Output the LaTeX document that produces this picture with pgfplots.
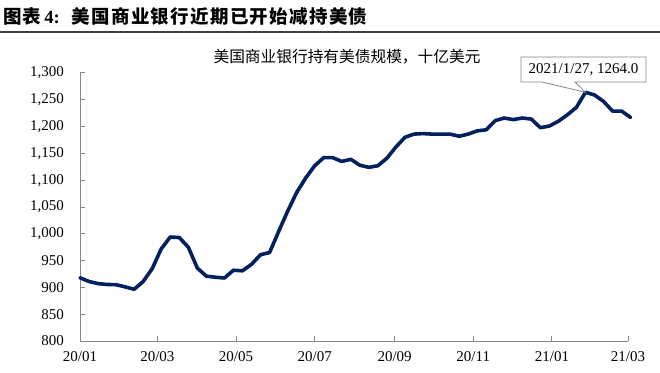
\documentclass[border=0pt]{standalone}
\usepackage{pgfplots}
\pgfplotsset{compat=1.18}
\usepackage{fontspec}
\setmainfont{Liberation Serif}
\newfontfamily\cjk{Noto Sans CJK SC}
\definecolor{navy}{RGB}{0,32,96}
\definecolor{axgray}{RGB}{134,134,134}
\begin{document}
\begin{tikzpicture}[x=1bp,y=1bp]
\useasboundingbox (0,0) rectangle (660,372);
\fill[white] (0,0) rectangle (660,372);
% title
\node[anchor=base west, inner sep=0pt] at (3,349) {\fontsize{18.5bp}{20bp}\selectfont{\cjk\bfseries\addfontfeature{LetterSpace=6}图表}\,{\bfseries 4:}\hspace{12bp}{\cjk\bfseries\addfontfeature{LetterSpace=7}美国商业银行近期已开始减持美债}};
\draw[line width=1.3bp, black!75] (0,340) -- (660,340);
% chart title
\node[inner sep=0pt] at (347,315) {\fontsize{15.7bp}{17bp}\selectfont\cjk 美国商业银行持有美债规模，十亿美元};
\begin{axis}[
  at={(80bp,31bp)}, anchor=south west,
  scale only axis, width=548bp, height=268bp,
  xmin=0, xmax=425, ymin=800, ymax=1300,
  axis lines*=left,
  axis line style={axgray, line width=1bp},
  clip=false,
  xtick={0,60,121,182,244,305,366,425},
  xticklabels={20/01,20/03,20/05,20/07,20/09,20/11,21/01,21/03},
  ytick={800,850,...,1300},
  tick align=inside,
  major tick length=5bp,
  tick style={axgray, line width=1bp},
  tick label style={font=\fontsize{15bp}{17bp}\selectfont, inner sep=0pt},
  /pgf/number format/assume math mode=true,
  /pgf/number format/.cd, 1000 sep={,},
  /pgfplots/.cd,
  yticklabel style={anchor=east, xshift=-16bp},
  xticklabel style={anchor=north, yshift=-10.5bp},
]
\addplot[navy, line width=3.6bp, line join=round, line cap=round] table {
x y
0 918
7 911
14 907
21 905.5
28 905
35 901
42 896.5
49 911
56 935
63 972
70 994
77 993
84 975
91 936
98 921
105 919
112 917.5
119 932
126 931
133 943
140 961
147 965
154 1004
161 1042
168 1077
175 1104
182 1127
189 1142
196 1142
203 1135
210 1139
217 1128
224 1124
231 1127
238 1141
245 1162
252 1180
259 1186
266 1187
273 1186
280 1186
287 1186
294 1182
301 1186
308 1192
315 1194
322 1211
329 1216
336 1213
343 1216
350 1214
357 1198
364 1201
371 1210
378 1222
385 1236
392 1264
399 1259
406 1247
413 1229
420 1229
427 1217
};
\coordinate (pk) at (axis cs:392,1264);
\end{axis}
% annotation callout
\draw[axgray, fill=white, line width=0.8bp] (521,290) -- (542,290) -- (pk) -- (575,290) -- (646,290) -- (646,315) -- (521,315) -- cycle;
\node[inner sep=0pt] at (583.5,302.5) {\fontsize{15bp}{17bp}\selectfont 2021/1/27, 1264.0};
\end{tikzpicture}
\end{document}
